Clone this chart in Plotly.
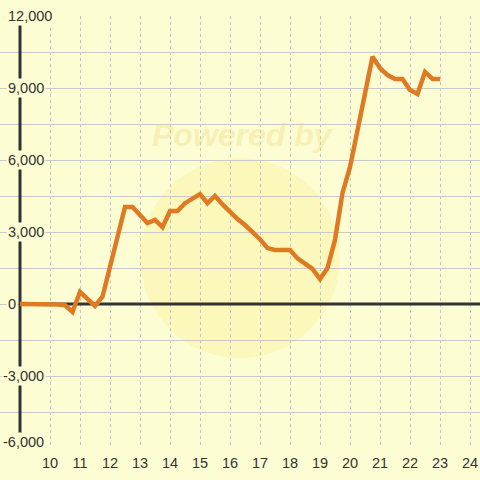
import plotly.graph_objects as go

# ---- data ----
hours = [9.0, 9.25, 9.5, 9.75, 10.0, 10.25, 10.5, 10.75, 11.0, 11.25, 11.5, 11.75,
         12.0, 12.25, 12.5, 12.75, 13.0, 13.25, 13.5, 13.75, 14.0, 14.25, 14.5, 14.75,
         15.0, 15.25, 15.5, 15.75, 16.0, 16.25, 16.5, 16.75, 17.0, 17.25, 17.5, 17.75,
         18.0, 18.25, 18.5, 18.75, 19.0, 19.25, 19.5, 19.75, 20.0, 20.25, 20.5, 20.75,
         21.0, 21.25, 21.5, 21.75, 22.0, 22.25, 22.5, 22.75, 23.0]
values = [0, 0, 0, 0, 0, -20, -50, -330, 500, 200, -80, 300,
          1540, 2670, 4040, 4040, 3700, 3375, 3500, 3200, 3875, 3875, 4200, 4400,
          4580, 4200, 4500, 4150, 3830, 3540, 3290, 3000, 2700, 2330, 2250, 2250,
          2250, 1900, 1700, 1460, 1040, 1500, 2670, 4630, 5700, 7300, 8800, 10300,
          9830, 9540, 9375, 9375, 8920, 8750, 9670, 9375, 9375]

x_tick_vals = list(range(10, 25))
x_tick_text = [str(v) for v in x_tick_vals]
y_tick_vals = [-6000, -3000, 0, 3000, 6000, 9000, 12000]
y_tick_text = ["-6,000", "-3,000", "0", "3,000", "6,000", "9,000", "12,000"]
y_grid_step = 1500

x_range = [8.3333, 24.3333]
y_range = [-6000, 12000]
axis_x = 9

BG = "#fdfdd4"
GRID = "#c9c9cc"
DARK = "#333333"
ORANGE = "#e07a22"
FONT = "Liberation Sans, Arial, sans-serif"

fig = go.Figure()
fig.add_trace(go.Scatter(x=hours, y=values, mode="lines",
                         line=dict(color=ORANGE, width=4.5),
                         hoverinfo="skip", showlegend=False))

fig.update_layout(
    width=480, height=480,
    margin=dict(l=0, r=0, t=16, b=32, pad=0),
    paper_bgcolor=BG, plot_bgcolor=BG,
    showlegend=False,
    font=dict(family=FONT, size=14, color=DARK),
    xaxis=dict(range=x_range, tickmode="array", tickvals=x_tick_vals,
               ticktext=x_tick_text, showgrid=True, gridcolor="#c4c4c4",
               griddash="3px,3px", gridwidth=1, zeroline=False, showline=False,
               ticks="", ticklabelstandoff=4,
               tickfont=dict(size=14.5, color=DARK, family=FONT),
               automargin=False, fixedrange=True),
    yaxis=dict(range=y_range, dtick=y_grid_step, tick0=0, showgrid=True,
               gridcolor=GRID, gridwidth=1, zeroline=False, showline=False,
               showticklabels=False, ticks="", automargin=False, fixedrange=True),
)

# watermark (faint logo circle + "Powered by")
fig.add_shape(type="circle", xref="paper", yref="paper",
              x0=140 / 480, x1=340 / 480, y0=(448 - 358) / 432, y1=(448 - 158) / 432,
              line=dict(width=0), fillcolor="rgba(250,228,100,0.22)", layer="below")
fig.add_annotation(text="<b><i>Powered by</i></b>", xref="paper", yref="paper",
                   x=243 / 480, y=(448 - 135) / 432, xanchor="center", yanchor="middle",
                   showarrow=False,
                   font=dict(size=32, color="rgba(236,214,120,0.35)", family=FONT))

# dark axis lines at x=9 and y=0
fig.add_shape(type="line", xref="x", yref="y", x0=axis_x, x1=axis_x,
              y0=y_range[0], y1=y_range[1], line=dict(color=DARK, width=3),
              layer="between")
fig.add_shape(type="line", xref="x", yref="y", x0=axis_x, x1=x_range[1],
              y0=0, y1=0, line=dict(color=DARK, width=3), layer="between")

# y tick labels with background boxes (as in the reference)
for v, t in zip(y_tick_vals, y_tick_text):
    fig.add_annotation(text=t, xref="paper", yref="y", x=0, y=v,
                       xanchor="left", yanchor="middle", showarrow=False,
                       xshift=1 if t.startswith("-") else 6,
                       yshift=6 if v == y_range[0] else 0,
                       bgcolor=BG, borderpad=1,
                       font=dict(size=14.5, color=DARK, family=FONT))

fig.write_html("out.html", config={"displayModeBar": False},
               post_script="document.body.style.margin='0';document.body.style.padding='0';")
